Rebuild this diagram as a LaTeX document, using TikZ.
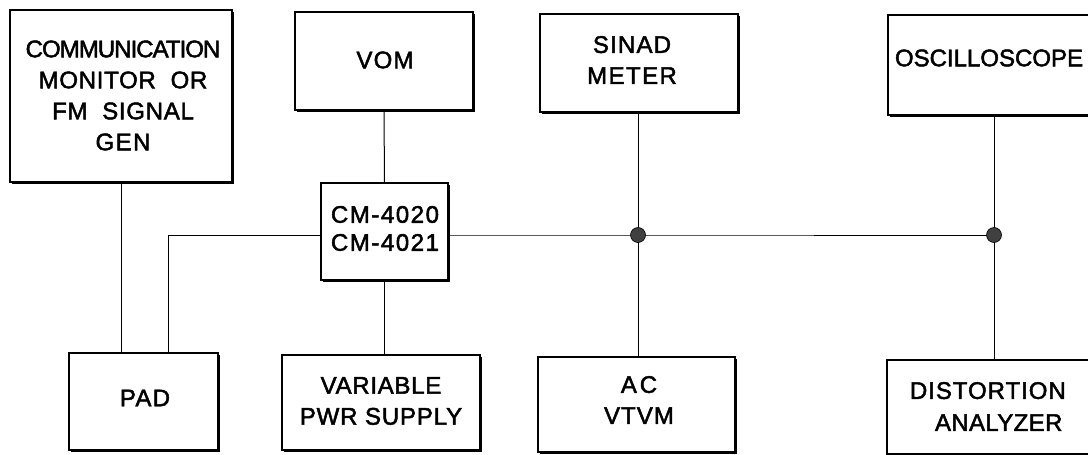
\documentclass[tikz,border=0pt]{standalone}
\usepackage{fontspec}
\newfontfamily\lettering{Liberation Sans}[FakeBold=2]
\newcommand\lsp[2]{{\addfontfeatures{LetterSpace=#1}#2}}
\usetikzlibrary{shadows}
\begin{document}
\begin{tikzpicture}[x=1pt,y=-1pt,
  box/.style={draw=black, line width=1.2pt, fill=white, inner sep=0pt,
    drop shadow={shadow xshift=1.6pt, shadow yshift=-1.6pt, fill=black, opacity=1}},
  lbl/.style={font=\lettering\fontsize{24}{31}\selectfont, align=center, inner sep=0pt},
  wire/.style={line width=1pt},
  dot/.style={circle, fill=black!75, draw=black, line width=0.6pt, minimum size=15pt, inner sep=0pt}]
\useasboundingbox (0,0) rectangle (1088,455);
% boxes
\node[box, minimum width=222pt, minimum height=172pt] (comm) at (121,96) {};
\node[lbl] (commt) at (123,95.5) {\lsp{-4}{COMMUNICATION}\\\lsp{3}{MONITOR\ \ OR}\\\lsp{3}{FM\ \ SIGNAL}\\\lsp{6}{GEN}};
\node[box, minimum width=178pt, minimum height=98pt] (vom) at (384,61) {};
\node[lbl] (vomt) at (385,60) {\lsp{5}{VOM}};
\node[box, minimum width=198pt, minimum height=98pt] (sinad) at (639,63) {};
\node[lbl] (sinadt) at (632,60) {\lsp{5}{SINAD}\\\lsp{6}{METER}};
\node[box, minimum width=206pt, minimum height=100pt] (osc) at (991,65) {};
\node[lbl] (osct) at (989,58) {OSCILLOSCOPE};
\node[box, minimum width=127pt, minimum height=97pt] (cm) at (384.5,231.5) {};
\node[lbl, font=\lettering\fontsize{24}{28}\selectfont] (cmt) at (385,228.5) {\lsp{6.5}{CM-4020}\\\lsp{6.5}{CM-4021}};
\node[box, minimum width=149pt, minimum height=97pt] (pad) at (143.5,401.5) {};
\node[lbl] (padt) at (145,398) {\lsp{5.5}{PAD}};
\node[box, minimum width=198pt, minimum height=95pt] (var) at (381,402.5) {};
\node[lbl] (vart) at (381,401) {\lsp{3}{VARIABLE}\\\lsp{3.5}{PWR\ SUPPLY}};
\node[box, minimum width=197pt, minimum height=95pt] (ac) at (636.5,404.5) {};
\node[lbl] (act) at (639,400) {\lsp{12}{AC}\\\lsp{4.5}{VTVM}};
\node[box, minimum width=205pt, minimum height=94pt] (dist) at (989.5,407) {};
\node[lbl, font=\lettering\fontsize{24}{32}\selectfont, text width=200pt, align=left] (distt) at (1010,406.5) {\lsp{4}{DISTORTION}\\\hspace*{25pt}\lsp{1.5}{ANALYZER}};
% junction coordinates
\coordinate (j1) at (638,235);
\coordinate (j2) at (994,235);
\coordinate (padtap) at (168,353);
% wires
\draw[wire] (121,182) -- (121,353);
\draw[wire] (padtap) -- (168,235) -- (cm.west |- j1);
\draw[wire] (cm.east |- j1) -- (j1) -- (j2);
\draw[wire] (vom.south) -- (cm.north);
\draw[wire] (cm.south) -- (cm.south |- var.north);
\draw[wire] (sinad.south -| j1) -- (ac.north -| j1);
\draw[wire] (osc.south -| j2) -- (dist.north -| j2);
\node[dot] (d1) at (j1) {};
\node[dot] (d2) at (j2) {};
\end{tikzpicture}
\end{document}
